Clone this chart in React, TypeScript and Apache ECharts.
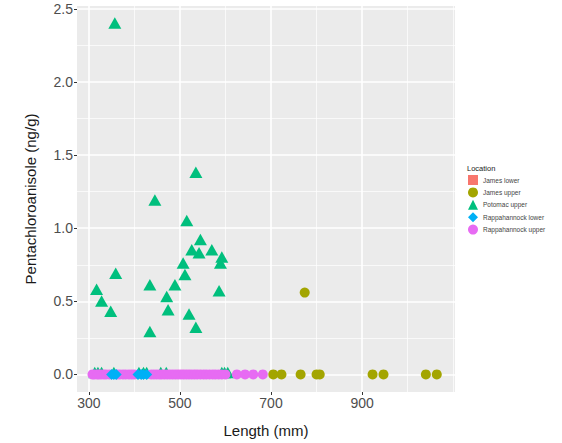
import React, { useEffect, useRef } from "react";
import * as echarts from "echarts";

// ---- data ----
const seriesNames = [
  "James lower",
  "James upper",
  "Potomac upper",
  "Rappahannock lower",
  "Rappahannock upper",
];

const jamesLowerLength = [500, 515, 540];
const jamesLowerPCA = [0, 0, 0];

const jamesUpperLength = [705, 723, 765, 774, 800, 807, 923, 947, 1040, 1064];
const jamesUpperPCA = [0, 0, 0, 0.56, 0, 0, 0, 0, 0, 0];

const potomacLength = [
  357, 535, 445, 515, 545, 526, 542, 570, 592, 589, 507, 511, 359, 317, 434,
  489, 586, 328, 471, 348, 474, 520, 535, 434,
  313, 320, 328, 355, 410, 420, 427, 458, 470, 592, 598, 605,
];
const potomacPCA = [
  2.39, 1.37, 1.18, 1.04, 0.91, 0.84, 0.82, 0.84, 0.79, 0.75, 0.75, 0.67, 0.68,
  0.57, 0.6, 0.6, 0.56, 0.49, 0.52, 0.42, 0.43, 0.4, 0.31, 0.28,
  0, 0, 0, 0, 0, 0, 0, 0, 0, 0, 0, 0,
];

const rappLowerLength = [350, 355, 360, 408, 415, 420, 427];
const rappLowerPCA = [0, 0, 0, 0, 0, 0, 0];

const rappUpperLength = [
  308, 312, 318, 322, 327, 333, 338, 345, 362, 368, 375, 381, 388, 394, 400,
  437, 443, 449, 455, 460, 466, 472, 478, 484, 490, 496, 502, 508, 514, 520,
  526, 532, 538, 545, 552, 558, 565, 572, 578, 585, 592, 600, 625, 643, 661,
  682,
];
const rappUpperPCA = [
  0, 0, 0, 0, 0, 0, 0, 0, 0, 0, 0, 0, 0, 0, 0,
  0, 0, 0, 0, 0, 0, 0, 0, 0, 0, 0, 0, 0, 0, 0,
  0, 0, 0, 0, 0, 0, 0, 0, 0, 0, 0, 0, 0, 0, 0,
  0,
];

const xMajorTicks = [300, 500, 700, 900];
const xMinorTicks = [400, 600, 800, 1000, 1100];
const yMajorTicks = [0, 0.5, 1, 1.5, 2, 2.5];
const yMinorTicks = [0.25, 0.75, 1.25, 1.75, 2.25];

const colors = ["#F8766D", "#A3A500", "#00BF7D", "#00B0F6", "#E76BF3"];

const zip = (xs: number[], ys: number[]) => xs.map((x, i) => [x, ys[i]]);

export default function App() {
  const ref = useRef<HTMLDivElement>(null);

  useEffect(() => {
    if (!ref.current) return;
    const chart = echarts.init(ref.current, null, { renderer: "svg" });
    const font = "Liberation Sans, Arial, sans-serif";

    const xBase = {
      type: "value" as const,
      min: 274,
      max: 1104,
      axisLine: { show: false, onZero: false },
    };
    const yBase = {
      type: "value" as const,
      min: -0.12,
      max: 2.52,
      axisLine: { show: false, onZero: false },
    };

    const option: any = {
      animation: false,
      textStyle: { fontFamily: font },
      grid: {
        left: 77,
        top: 6,
        right: 107,
        bottom: 51,
        show: true,
        backgroundColor: "#EBEBEB",
        borderWidth: 0,
      },
      xAxis: [
        {
          ...xBase,
          name: "Length (mm)",
          nameLocation: "middle",
          nameGap: 31,
          nameTextStyle: { fontSize: 15, color: "#1a1a1a", fontFamily: font },
          axisTick: {
            show: true,
            length: 3,
            lineStyle: { color: "#333333", width: 1 },
            customValues: xMajorTicks,
          },
          axisLabel: {
            customValues: xMajorTicks,
            color: "#4D4D4D",
            fontSize: 14,
            margin: 4,
            fontFamily: font,
          },
          splitLine: { show: true, lineStyle: { color: "#FFFFFF", width: 1.6 } },
        },
        {
          ...xBase,
          position: "bottom",
          axisTick: { show: false, customValues: xMinorTicks },
          axisLabel: { show: false, customValues: xMinorTicks },
          splitLine: { show: true, lineStyle: { color: "#FFFFFF", width: 0.7 } },
        },
      ],
      yAxis: [
        {
          ...yBase,
          name: "Pentachloroanisole (ng/g)",
          nameLocation: "middle",
          nameGap: 39,
          nameTextStyle: { fontSize: 15, color: "#1a1a1a", fontFamily: font },
          axisTick: {
            show: true,
            length: 3,
            lineStyle: { color: "#333333", width: 1 },
            customValues: yMajorTicks,
          },
          axisLabel: {
            customValues: yMajorTicks,
            color: "#4D4D4D",
            fontSize: 14,
            margin: 4,
            fontFamily: font,
            formatter: (v: number) => v.toFixed(1),
          },
          splitLine: { show: true, lineStyle: { color: "#FFFFFF", width: 1.6 } },
        },
        {
          ...yBase,
          position: "left",
          axisTick: { show: false, customValues: yMinorTicks },
          axisLabel: { show: false, customValues: yMinorTicks },
          splitLine: { show: true, lineStyle: { color: "#FFFFFF", width: 0.7 } },
        },
      ],
      legend: {
        orient: "vertical",
        left: 463,
        top: 170,
        itemWidth: 10,
        itemHeight: 10,
        itemGap: 2.4,
        textStyle: { fontSize: 6.5, color: "#444444", fontFamily: font },
        data: seriesNames,
      },
      graphic: [
        {
          type: "text",
          left: 467,
          top: 164,
          style: { text: "Location", fontSize: 7.5, fill: "#1a1a1a", fontFamily: font },
        },
      ],
      series: [
        {
          name: "James lower",
          type: "scatter",
          symbol: "rect",
          symbolSize: 9,
          itemStyle: { color: colors[0], opacity: 1 },
          data: zip(jamesLowerLength, jamesLowerPCA),
        },
        {
          name: "James upper",
          type: "scatter",
          symbol: "circle",
          symbolSize: 10,
          itemStyle: { color: colors[1], opacity: 1 },
          data: zip(jamesUpperLength, jamesUpperPCA),
        },
        {
          name: "Potomac upper",
          type: "scatter",
          symbol: "triangle",
          symbolSize: [13, 11.5],
          symbolOffset: [0, -1.9],
          itemStyle: { color: colors[2], opacity: 1 },
          data: zip(potomacLength, potomacPCA),
        },
        {
          name: "Rappahannock upper",
          type: "scatter",
          symbol: "circle",
          symbolSize: 10,
          itemStyle: { color: colors[4], opacity: 1 },
          data: zip(rappUpperLength, rappUpperPCA),
        },
        {
          name: "Rappahannock lower",
          type: "scatter",
          symbol: "diamond",
          symbolSize: [11, 11],
          itemStyle: { color: colors[3], opacity: 1 },
          data: zip(rappLowerLength, rappLowerPCA),
        },
      ],
    };

    chart.setOption(option);
    return () => chart.dispose();
  }, []);

  return (
    <div
      ref={ref}
      style={{ position: "fixed", left: 0, top: 0, width: 562, height: 443, background: "#fff" }}
    />
  );
}
